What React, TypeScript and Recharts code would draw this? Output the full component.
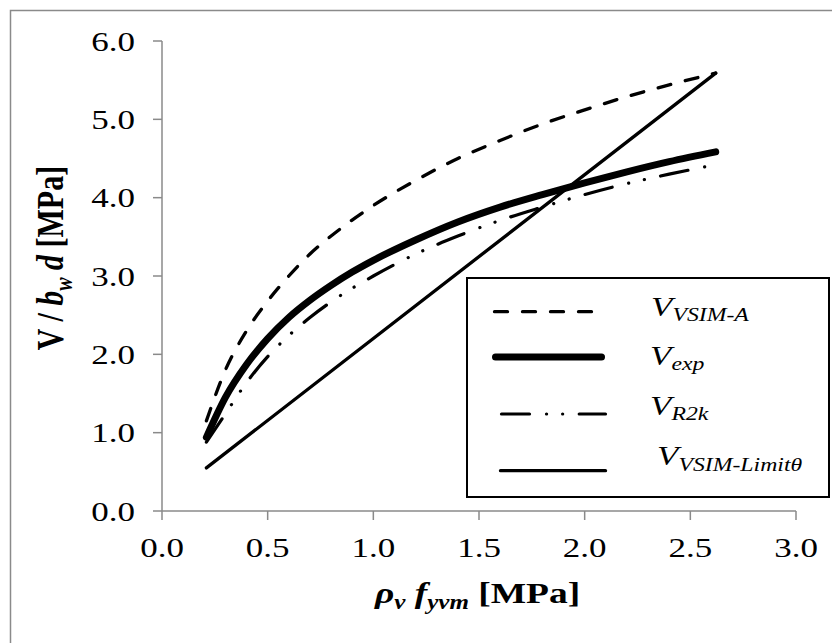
import React from "react";
import { LineChart, Line, XAxis, YAxis } from "recharts";

// ---- data ----
const xVsimA = [0.21, 0.3, 0.4, 0.5, 0.6, 0.7, 0.8, 1.0, 1.2, 1.4, 1.6, 1.8, 2.0, 2.2, 2.4, 2.62];
const yVsimA = [1.15, 1.8, 2.3, 2.68, 3.0, 3.28, 3.51, 3.9, 4.22, 4.5, 4.73, 4.94, 5.12, 5.29, 5.44, 5.59];

const xExp = [0.21, 0.3, 0.4, 0.5, 0.6, 0.7, 0.8, 0.9, 1.0, 1.2, 1.4, 1.6, 1.8, 2.0, 2.2, 2.4, 2.62];
const yExp = [0.94, 1.45, 1.87, 2.2, 2.47, 2.69, 2.88, 3.05, 3.2, 3.46, 3.69, 3.88, 4.04, 4.19, 4.33, 4.46, 4.585];

const xR2k = [0.21, 0.3, 0.4, 0.5, 0.6, 0.7, 0.8, 1.0, 1.2, 1.4, 1.6, 1.8, 2.0, 2.2, 2.4, 2.6];
const yR2k = [0.88, 1.24, 1.64, 1.97, 2.24, 2.47, 2.67, 3.0, 3.28, 3.51, 3.71, 3.88, 4.04, 4.18, 4.3, 4.41];

const xLimit = [0.21, 2.62];
const yLimit = [0.55, 5.59];

const xTicks = [0, 0.5, 1.0, 1.5, 2.0, 2.5, 3.0];
const yTicks = [0, 1, 2, 3, 4, 5, 6];

const toPoints = (xs: number[], ys: number[]) => xs.map((x, i) => ({ x, y: ys[i] }));

const dataVsimA = toPoints(xVsimA, yVsimA);
const dataExp = toPoints(xExp, yExp);
const dataR2k = toPoints(xR2k, yR2k);
const dataLimit = toPoints(xLimit, yLimit);

const FONT = "'Liberation Serif', 'Times New Roman', serif";
const AXIS_GRAY = "#8a8a8a";
const SX = 1.25;

const DASH_A = "13 15";
const DASH_R2K = "28 17 0.1 16 0.1 16.5";

const XTick = (props: any) => {
  const { x, y, payload } = props;
  return (
    <g transform={`translate(${x},${y}) scale(${SX},1)`}>
      <text x={0} y={0} dy="0.69em" textAnchor="middle" fontSize={28} fontFamily={FONT} fill="#000">
        {Number(payload.value).toFixed(1)}
      </text>
    </g>
  );
};

const YTick = (props: any) => {
  const { x, y, payload } = props;
  return (
    <g transform={`translate(${x},${y}) scale(${SX},1)`}>
      <text x={0} y={0} dy="0.34em" textAnchor="end" fontSize={28} fontFamily={FONT} fill="#000">
        {Number(payload.value).toFixed(1)}
      </text>
    </g>
  );
};

const Overlay = () => (
  <svg
    width={832}
    height={643}
    style={{ position: "absolute", left: 0, top: 0, pointerEvents: "none" }}
  >
    {/* outer frame (top and left visible) */}
    <rect x={10.5} y={10.5} width={840} height={660} fill="none" stroke={AXIS_GRAY} strokeWidth={1.5} />

    {/* y axis title */}
    <text
      transform={`translate(63,258) scale(${SX},1) rotate(-90)`}
      textAnchor="middle"
      fontSize={30}
      fontWeight="bold"
      fontFamily={FONT}
      fill="#000"
    >
      V / <tspan fontStyle="italic">b</tspan>
      <tspan fontStyle="italic" fontSize={20} dy={7}>w</tspan>
      <tspan dy={-7} fontStyle="italic"> d</tspan> [MPa]
    </text>

    {/* x axis title */}
    <text
      transform={`translate(375,603) scale(${SX},1)`}
      textAnchor="start"
      fontSize={30}
      fontWeight="bold"
      fontFamily={FONT}
      fill="#000"
    >
      <tspan fontStyle="italic">ρ</tspan>
      <tspan fontStyle="italic" fontSize={20} dy={6}>v</tspan>
      <tspan fontStyle="italic" dy={-6}> f</tspan>
      <tspan fontStyle="italic" fontSize={20} dy={6}>yvm</tspan>
      <tspan dy={-6}> [MPa]</tspan>
    </text>

    {/* legend box */}
    <rect x={467} y={278} width={362} height={219} fill="#fff" stroke="#000" strokeWidth={2} />

    <line x1={494.5} y1={311.7} x2={593} y2={311.7} stroke="#000" strokeWidth={3.3} strokeLinecap="round" strokeDasharray={DASH_A} />
    <line x1={495.5} y1={357} x2={601.5} y2={357} stroke="#000" strokeWidth={7} strokeLinecap="round" />
    <line x1={501.5} y1={414} x2={605.5} y2={414} stroke="#000" strokeWidth={3.2} strokeLinecap="round" strokeDasharray={DASH_R2K} />
    <line x1={500.5} y1={470.7} x2={605.5} y2={470.7} stroke="#000" strokeWidth={3.3} strokeLinecap="round" />

    <g transform={`translate(651,316) scale(${SX},1)`}>
      <text fontFamily={FONT} fontStyle="italic" fontSize={28} fill="#000">
        V<tspan fontSize={19} dy={5}>VSIM-A</tspan>
      </text>
    </g>
    <g transform={`translate(650,365) scale(${SX},1)`}>
      <text fontFamily={FONT} fontStyle="italic" fontSize={28} fill="#000">
        V<tspan fontSize={19} dy={5}>exp</tspan>
      </text>
    </g>
    <g transform={`translate(650,415) scale(${SX},1)`}>
      <text fontFamily={FONT} fontStyle="italic" fontSize={28} fill="#000">
        V<tspan fontSize={19} dy={5}>R2k</tspan>
      </text>
    </g>
    <g transform={`translate(657,465) scale(${SX},1)`}>
      <text fontFamily={FONT} fontStyle="italic" fontSize={28} fill="#000">
        V<tspan fontSize={19} dy={6}>VSIM-Limitθ</tspan>
      </text>
    </g>
  </svg>
);

export default function App() {
  return (
    <div style={{ position: "absolute", left: 0, top: 0, width: 832, height: 643, background: "#fff" }}>
      <LineChart width={832} height={643} margin={{ top: 41, right: 36, left: 0, bottom: 0 }}>
        <XAxis
          type="number"
          dataKey="x"
          domain={[0, 3]}
          ticks={xTicks}
          height={132}
          tickSize={9}
          tickMargin={18}
          axisLine={{ stroke: AXIS_GRAY, strokeWidth: 1.5 }}
          tickLine={{ stroke: AXIS_GRAY, strokeWidth: 1.5 }}
          tick={<XTick />}
          interval={0}
        />
        <YAxis
          type="number"
          dataKey="y"
          domain={[0, 6]}
          ticks={yTicks}
          width={162}
          tickSize={9}
          tickMargin={18}
          axisLine={{ stroke: AXIS_GRAY, strokeWidth: 1.5 }}
          tickLine={{ stroke: AXIS_GRAY, strokeWidth: 1.5 }}
          tick={<YTick />}
          interval={0}
        />
        <Line
          data={dataVsimA}
          dataKey="y"
          type="monotone"
          stroke="#000"
          strokeWidth={3.3}
          strokeDasharray={DASH_A}
          strokeLinecap="round"
          dot={false}
          activeDot={false}
          isAnimationActive={false}
        />
        <Line
          data={dataExp}
          dataKey="y"
          type="monotone"
          stroke="#000"
          strokeWidth={7}
          strokeLinecap="round"
          dot={false}
          activeDot={false}
          isAnimationActive={false}
        />
        <Line
          data={dataR2k}
          dataKey="y"
          type="monotone"
          stroke="#000"
          strokeWidth={3.2}
          strokeDasharray={DASH_R2K}
          strokeLinecap="round"
          dot={false}
          activeDot={false}
          isAnimationActive={false}
        />
        <Line
          data={dataLimit}
          dataKey="y"
          type="linear"
          stroke="#000"
          strokeWidth={3.3}
          strokeLinecap="round"
          dot={false}
          activeDot={false}
          isAnimationActive={false}
        />
      </LineChart>
      <Overlay />
    </div>
  );
}
